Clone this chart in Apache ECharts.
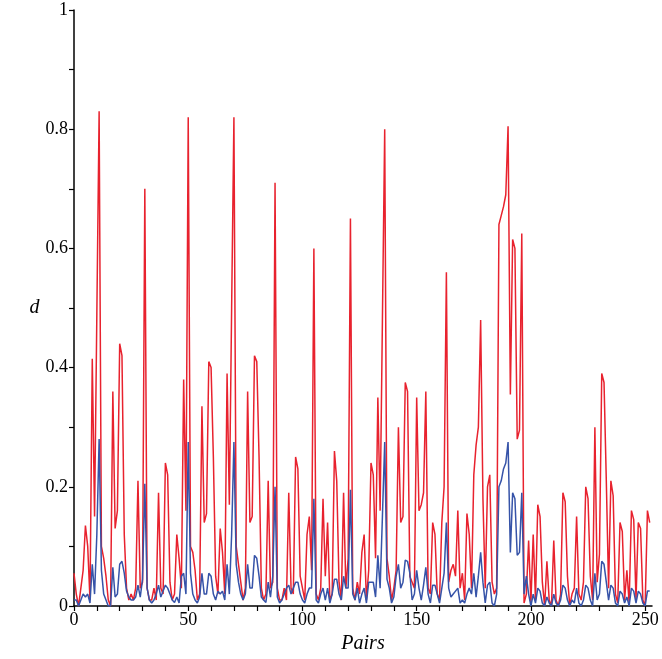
<!DOCTYPE html>
<html><head><meta charset="utf-8">
<script src="https://cdn.jsdelivr.net/npm/echarts@6/dist/echarts.min.js"></script>
<style>html,body{margin:0;padding:0;background:#fff}#c{width:662px;height:659px}</style>
</head><body><div id="c"></div>
<script>
// Red series (d values, upper curve), index = pair number starting at 0
const redValues = [
  0.055,0.02,0.0,0.03,0.06,0.135,0.10,0.01,0.415,0.15,0.49,0.83,0.10,0.08,0.05,0.01,0.0,0.36,0.13,0.16,0.44,
  0.42,0.12,0.03,0.01,0.02,0.01,0.03,0.21,0.03,0.04,0.70,0.03,0.01,0.01,0.03,0.01,0.19,0.03,0.02,0.24,0.22,
  0.04,0.01,0.02,0.12,0.08,0.03,0.38,0.16,0.82,0.10,0.09,0.06,0.01,0.02,0.335,0.14,0.155,0.41,0.40,0.25,0.05,
  0.02,0.13,0.09,0.02,0.39,0.17,0.5,0.82,0.10,0.07,0.04,0.01,0.03,0.36,0.14,0.15,0.42,0.41,0.25,0.03,0.01,
  0.02,0.21,0.03,0.04,0.71,0.03,0.01,0.01,0.03,0.01,0.19,0.03,0.02,0.25,0.23,0.05,0.03,0.01,0.12,0.15,0.06,
  0.60,0.02,0.01,0.03,0.18,0.05,0.14,0.01,0.02,0.26,0.21,0.04,0.01,0.19,0.03,0.08,0.65,0.03,0.01,0.04,0.02,
  0.09,0.12,0.01,0.06,0.24,0.22,0.08,0.35,0.16,0.48,0.80,0.08,0.05,0.01,0.03,0.06,0.30,0.14,0.15,0.375,0.36,
  0.05,0.04,0.03,0.35,0.16,0.17,0.19,0.36,0.03,0.02,0.14,0.12,0.02,0.01,0.14,0.20,0.56,0.04,0.06,0.07,0.05,
  0.16,0.03,0.055,0.01,0.155,0.12,0.03,0.22,0.27,0.30,0.48,0.18,0.03,0.20,0.22,0.04,0.02,0.03,0.64,0.655,0.67,
  0.69,0.805,0.355,0.615,0.60,0.28,0.295,0.625,0.005,0.02,0.11,0.005,0.12,0.01,0.17,0.15,0.04,0.0,0.075,0.01,0.0,
  0.11,0.01,0.0,0.02,0.19,0.175,0.05,0.0,0.02,0.03,0.15,0.02,0.01,0.04,0.20,0.18,0.05,0.01,0.30,0.04,0.087,
  0.39,0.375,0.21,0.03,0.21,0.185,0.02,0.005,0.14,0.125,0.01,0.06,0.005,0.16,0.145,0.01,0.14,0.13,0.01,0.0,0.16,0.14
];
// Blue series (lower curve)
const blueValues = [
  0.01,0.01,0.0,0.01,0.02,0.015,0.02,0.005,0.07,0.02,0.12,0.28,0.06,0.02,0.01,0.0,0.0,0.065,0.015,0.02,0.07,
  0.075,0.055,0.025,0.015,0.01,0.01,0.015,0.035,0.015,0.045,0.205,0.03,0.01,0.005,0.01,0.02,0.035,0.015,0.025,0.035,0.03,
  0.02,0.01,0.006,0.015,0.005,0.05,0.055,0.02,0.275,0.055,0.02,0.01,0.005,0.015,0.055,0.02,0.02,0.055,0.05,0.02,0.01,
  0.025,0.02,0.025,0.01,0.07,0.02,0.12,0.275,0.07,0.04,0.02,0.01,0.02,0.07,0.03,0.03,0.085,0.08,0.05,0.015,0.01,
  0.006,0.04,0.015,0.05,0.20,0.015,0.005,0.01,0.02,0.03,0.035,0.02,0.03,0.04,0.04,0.02,0.01,0.005,0.02,0.03,0.03,
  0.18,0.01,0.005,0.02,0.03,0.01,0.03,0.005,0.02,0.045,0.045,0.02,0.01,0.05,0.03,0.03,0.195,0.02,0.01,0.03,0.005,
  0.02,0.03,0.005,0.04,0.04,0.04,0.015,0.085,0.03,0.15,0.275,0.045,0.03,0.005,0.015,0.05,0.07,0.03,0.04,0.077,0.075,
  0.055,0.01,0.02,0.06,0.03,0.01,0.035,0.065,0.02,0.005,0.035,0.035,0.02,0.005,0.03,0.055,0.14,0.03,0.015,0.02,0.025,
  0.03,0.005,0.01,0.005,0.02,0.03,0.02,0.055,0.015,0.05,0.09,0.04,0.005,0.035,0.04,0.005,0.0,0.02,0.20,0.21,0.23,
  0.24,0.275,0.09,0.19,0.18,0.085,0.09,0.19,0.02,0.05,0.02,0.0,0.02,0.005,0.03,0.025,0.005,0.0,0.015,0.005,0.0,
  0.02,0.005,0.0,0.01,0.035,0.03,0.01,0.0,0.01,0.005,0.03,0.005,0.0,0.01,0.035,0.03,0.01,0.0,0.055,0.01,0.02,
  0.075,0.07,0.04,0.01,0.035,0.03,0.005,0.0,0.025,0.02,0.005,0.015,0.0,0.03,0.025,0.005,0.025,0.02,0.005,0.0,0.025,0.025
];
const xLabelValues = [0, 50, 100, 150, 200, 250];
const xTickValues = [0,10,20,30,40,50,60,70,80,90,100,110,120,130,140,150,160,170,180,190,200,210,220,230,240,250];
const yLabelValues = [0, 0.2, 0.4, 0.6, 0.8, 1];
const yTickValues = [0, 0.1, 0.2, 0.3, 0.4, 0.5, 0.6, 0.7, 0.8, 0.9, 1];

const font = 'Liberation Serif';
const chart = echarts.init(document.getElementById('c'), null, {renderer: 'canvas'});
const toXY = arr => arr.map((v, i) => [i, v]);
const axisLine = {show: true, lineStyle: {color: '#000', width: 1.5}};
const tickStyle = {show: true, inside: false, length: 5, lineStyle: {color: '#000', width: 1.2}};
const labelStyle = {color: '#000', fontFamily: font, fontSize: 18, margin: 6};
chart.setOption({
  animation: false,
  backgroundColor: '#fff',
  grid: {left: 74, right: 10, top: 10, bottom: 41, containLabel: false},
  xAxis: {
    type: 'value', min: 0, max: 253,
    name: 'Pairs', nameLocation: 'middle', nameGap: 28,
    nameTextStyle: {color: '#000', fontFamily: font, fontSize: 20, fontStyle: 'italic'},
    axisLine: axisLine,
    axisTick: Object.assign({}, tickStyle, {customValues: xTickValues}),
    axisLabel: Object.assign({}, labelStyle, {customValues: xLabelValues, margin: 5}),
    splitLine: {show: false}
  },
  yAxis: {
    type: 'value', min: 0, max: 1,
    name: 'd', nameLocation: 'middle', nameGap: 30, nameRotate: 0,
    nameTextStyle: {color: '#000', fontFamily: font, fontSize: 20, fontStyle: 'italic'},
    axisLine: axisLine,
    axisTick: Object.assign({}, tickStyle, {customValues: yTickValues}),
    axisLabel: Object.assign({}, labelStyle, {customValues: yLabelValues}),
    splitLine: {show: false}
  },
  series: [
    {type: 'line', data: toXY(redValues), showSymbol: false, symbol: 'none',
     lineStyle: {color: '#e8222e', width: 1.5}, z: 2},
    {type: 'line', data: toXY(blueValues), showSymbol: false, symbol: 'none',
     lineStyle: {color: '#3653a8', width: 1.5}, z: 3}
  ]
});
</script>
</body></html>
